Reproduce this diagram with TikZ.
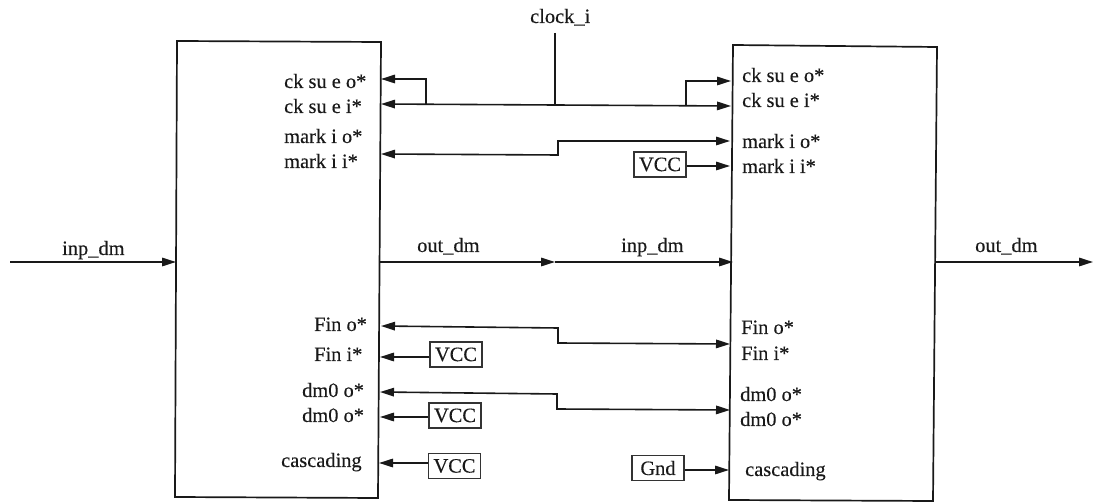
\documentclass[tikz,border=0pt]{standalone}
\usepackage{fontspec}
\setmainfont[FakeBold=0.25]{Liberation Serif}
\usetikzlibrary{arrows.meta}
\tikzset{
  wire/.style={line width=1.6pt,draw=black!90,line join=miter},
  sig/.style={wire,-{Triangle[length=14pt,width=8.5pt]}},
  boxline/.style={line width=1.7pt,draw=black!90,line join=miter},
  pin/.style={anchor=base west,inner sep=0pt,font=\fontsize{20.4}{20}\selectfont,text=black!90},
  pwr/.style={draw=black!80,line width=1.2pt,inner sep=0pt,minimum width=52pt,minimum height=25pt,font=\fontsize{20.4}{20}\selectfont,text=black!90}
}
\begin{document}
\begin{tikzpicture}[x=1pt,y=-1pt]
\useasboundingbox (0,0) rectangle (1093,502);
% blocks
\draw[boxline] (177,41) -- (381,42) -- (378,498) -- (175,497) -- cycle;
\draw[boxline] (733,45) -- (937,47) -- (933,501) -- (729,500) -- cycle;
% left labels
\node[pin] (lck1) at (284,88) {ck su e o*};
\node[pin] (lck2) at (284,113) {ck su e i*};
\node[pin] (lmk1) at (284,143) {mark i o*};
\node[pin] (lmk2) at (284,168) {mark i i*};
\node[pin] (lfin1) at (314,331) {Fin o*};
\node[pin] (lfin2) at (314,361) {Fin i*};
\node[pin] (ldm1) at (302,397) {dm0 o*};
\node[pin] (ldm2) at (302,422) {dm0 o*};
\node[pin] (lcas) at (281,467) {cascading};
% right labels
\node[pin] (rck1) at (742,82) {ck su e o*};
\node[pin] (rck2) at (742,107) {ck su e i*};
\node[pin] (rmk1) at (742,148) {mark i o*};
\node[pin] (rmk2) at (742,173) {mark i i*};
\node[pin] (rfin1) at (741,334) {Fin o*};
\node[pin] (rfin2) at (741,360) {Fin i*};
\node[pin] (rdm1) at (740,401) {dm0 o*};
\node[pin] (rdm2) at (740,426) {dm0 o*};
\node[pin] (rcas) at (745,476) {cascading};
% signal names
\node[pin] (clk) at (530,23) {clock\_i};
\node[pin] (inl) at (62,255) {inp\_dm};
\node[pin] (outl) at (417,252) {out\_dm};
\node[pin] (inr) at (621,252) {inp\_dm};
\node[pin] (outr) at (975,252) {out\_dm};
% power boxes
\node[pwr] (vr) at (660,164.5) {VCC};
\node[pwr] (v1) at (456,354.5) {VCC};
\node[pwr] (v2) at (455,415.5) {VCC};
\node[pwr] (v3) at (454.5,466) {VCC};
\node[pwr] (g) at (658,468) {Gnd};
% anchor points
\coordinate (ckt) at (555,33);
\coordinate (ckj) at (555,105);
\coordinate (a1) at (381,79);
\coordinate (a2) at (381,104);
\coordinate (a3) at (731,81);
\coordinate (a4) at (731,106);
\coordinate (j1) at (426,104.3);
\coordinate (j2) at (686,105.7);
\coordinate (a5) at (381,154);
\coordinate (a6) at (730,141);
\coordinate (a7) at (730,166);
\coordinate (in1) at (10,262);
\coordinate (in2) at (176,262);
\coordinate (o1) at (380,262);
\coordinate (om) at (555,262);
\coordinate (o2) at (733,262);
\coordinate (e1) at (935,262);
\coordinate (e2) at (1093,262);
\coordinate (f1) at (381,326);
\coordinate (f2) at (730,344);
\coordinate (f3) at (380,357);
\coordinate (d1) at (380,392);
\coordinate (d2) at (730,410);
\coordinate (d3) at (380,417);
\coordinate (c1) at (379,463);
\coordinate (c2) at (729,470);
% connectors
\draw[wire] (ckt) -- (ckj);
\draw[sig] (ckj) -- (a2);
\draw[sig] (ckj) -- (a4);
\draw[sig] (j1) -- (426,79) -- (a1);
\draw[sig] (j2) -- (686,81) -- (a3);
\draw[sig] (558,141) -- (558,155) -- (a5);
\draw[sig] (558,155) -- (558,141) -- (a6);
\draw[sig] (vr.east |- a7) -- (a7);
\draw[sig] (in1) -- (in2);
\draw[sig] (o1) -- (om);
\draw[sig] (om) -- (o2);
\draw[sig] (e1) -- (e2);
\draw[sig] (558,343) -- (558,328) -- (f1);
\draw[sig] (558,328) -- (558,343) -- (f2);
\draw[sig] (v1.west |- f3) -- (f3);
\draw[sig] (557,409) -- (557,394) -- (d1);
\draw[sig] (557,394) -- (557,409) -- (d2);
\draw[sig] (v2.west |- d3) -- (d3);
\draw[sig] (v3.west |- c1) -- (c1);
\draw[sig] (g.east |- c2) -- (c2);
\end{tikzpicture}
\end{document}
